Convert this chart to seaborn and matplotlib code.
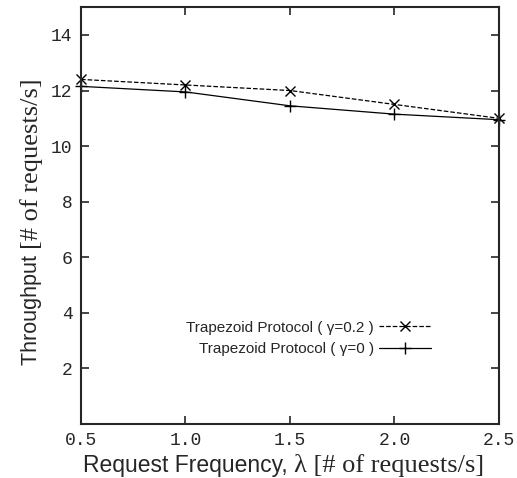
import matplotlib
matplotlib.use("Agg")
import matplotlib.pyplot as plt
import seaborn as sns
import pandas as pd

freq = [0.5, 1.0, 1.5, 2.0, 2.5]
thr_g02 = [12.4, 12.2, 12.0, 11.5, 11.0]
thr_g0 = [12.15, 11.95, 11.45, 11.15, 10.95]
label_g02 = "Trapezoid Protocol ( γ=0.2 )"
label_g0 = "Trapezoid Protocol ( γ=0 )"
xticks = [0.5, 1.0, 1.5, 2.0, 2.5]
yticks = [2, 4, 6, 8, 10, 12, 14]

sns.set_style("ticks")
plt.rcParams['font.family'] = ['Liberation Sans', 'DejaVu Sans']

fig = plt.figure(figsize=(5.17, 4.78), dpi=100)
ax = fig.add_axes([0.1567, 0.113, 0.8083, 0.872])

df1 = pd.DataFrame({"x": freq, "y": thr_g02})
df2 = pd.DataFrame({"x": freq, "y": thr_g0})
sns.lineplot(data=df1, x="x", y="y", ax=ax, color="black", linestyle="--",
             marker="x", markersize=7, markeredgewidth=1.0, markeredgecolor="black",
             linewidth=0.9, label=label_g02, clip_on=False)
sns.lineplot(data=df2, x="x", y="y", ax=ax, color="black", linestyle="-",
             marker="+", markersize=9, markeredgewidth=1.0, markeredgecolor="black",
             linewidth=0.9, label=label_g0, clip_on=False)

ax.set_xlim(0.5, 2.5)
ax.set_ylim(0, 15)
ax.set_xticks(xticks)
ax.set_xticklabels([f"{v:.1f}" for v in xticks], family="Liberation Mono", fontsize=13)
ax.set_yticks(yticks)
ax.set_yticklabels([str(v) for v in yticks], family="Liberation Mono", fontsize=13)
ax.tick_params(direction="in", length=6, width=1.2, top=True, right=True, pad=6)
for s in ax.spines.values():
    s.set_linewidth(1.5)
    s.set_visible(True)

ax.set_xlabel("")
ax.set_ylabel("")

# x label with mixed fonts
t1 = fig.text(0.160, 0.0126, "Request Frequency, ", family="Liberation Sans",
              fontsize=16.5, ha="left", va="baseline")
ax.annotate("λ [# of requests/s]", xy=(1, 0), xycoords=t1,
            va="bottom", ha="left", family="Liberation Serif", fontsize=19,
            annotation_clip=False)

# y label with mixed fonts
t2 = fig.text(0.06, 0.236, "Throughput ", family="Liberation Sans",
              fontsize=15.5, ha="center", va="bottom", rotation=90)
ax.annotate("[# of requests/s]", xy=(0.5, 1), xycoords=t2,
            va="bottom", ha="center", family="Liberation Serif", fontsize=19,
            rotation=90, annotation_clip=False)

leg = ax.legend(loc="center right", bbox_to_anchor=(0.862, 0.205), frameon=False,
                markerfirst=False, fontsize=11, handlelength=3.4,
                labelspacing=0.5, handletextpad=0.3, borderpad=0.2)
for t in leg.get_texts():
    t.set_ha("right")
leg._legend_box.align = "right"

fig.savefig("out.png", dpi=100)
